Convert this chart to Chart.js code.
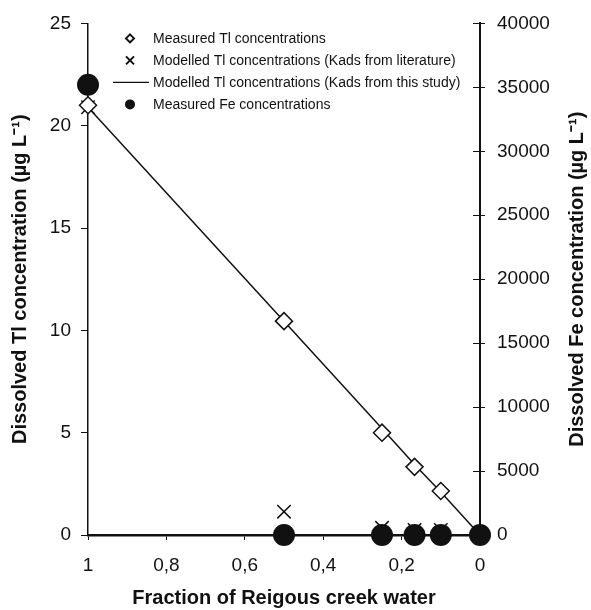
<!DOCTYPE html>
<html>
<head>
<meta charset="utf-8">
<script src="https://cdn.jsdelivr.net/npm/chart.js@4.4.1/dist/chart.umd.min.js"></script>
<style>
  html, body { margin: 0; padding: 0; background: #fff; }
  #wrap { width: 591px; height: 610px; position: relative; }
</style>
</head>
<body>
<div id="wrap"><canvas id="chart"></canvas></div>
<script>
// values
const fraction = [1, 0.5, 0.25, 0.167, 0.1, 0];
const measuredTl = [21.0, 10.45, 5.0, 3.33, 2.15, 0];
const modelledTlLit = [20.9, 1.14, 0.35, 0.25, 0.25, 0.05];
const modelledTlStudy = [20.9, 10.45, 5.2, 3.45, 2.1, 0];
const measuredFe = [35200, 0, 0, 0, 0, 0];

const xTicks = [1, 0.8, 0.6, 0.4, 0.2, 0];
const tlTicks = [0, 5, 10, 15, 20, 25];
const feTicks = [0, 5000, 10000, 15000, 20000, 25000, 30000, 35000, 40000];

const legendLabels = [
  "Measured Tl concentrations",
  "Modelled Tl concentrations (Kads from literature)",
  "Modelled Tl concentrations (Kads from this study)",
  "Measured Fe concentrations"
];

const FONT = "'Liberation Sans', Arial, sans-serif";
const INK = "#111";

const toPoints = (ys) => fraction.map((x, i) => ({ x: x, y: ys[i] }));
const fixTicks = (list) => (scale) => { scale.ticks = list.map(v => ({ value: v })); };

// legend inside the plot + right axis title (it reads upward) + inner tick halves
const extrasPlugin = {
  id: "extras",
  afterDraw(chart) {
    const ctx = chart.ctx;
    const area = chart.chartArea;
    const yFe = chart.scales.yFe;

    ctx.save();
    ctx.strokeStyle = INK;
    ctx.fillStyle = INK;

    // right axis ticks cross into the plot
    ctx.lineWidth = 1;
    feTicks.forEach(v => {
      const py = Math.round(yFe.getPixelForValue(v)) + 0.5;
      ctx.beginPath();
      ctx.moveTo(area.right - 7, py);
      ctx.lineTo(area.right, py);
      ctx.stroke();
    });

    // legend
    const mx = area.left + 42;
    const tx = area.left + 65;
    legendLabels.forEach((label, i) => {
      const ly = area.top + 15 + i * 22;
      ctx.beginPath();
      if (i === 0) {
        ctx.moveTo(mx, ly - 4);
        ctx.lineTo(mx + 4, ly);
        ctx.lineTo(mx, ly + 4);
        ctx.lineTo(mx - 4, ly);
        ctx.closePath();
        ctx.lineWidth = 2;
        ctx.stroke();
      } else if (i === 1) {
        ctx.moveTo(mx - 4, ly - 4);
        ctx.lineTo(mx + 4, ly + 4);
        ctx.moveTo(mx + 4, ly - 4);
        ctx.lineTo(mx - 4, ly + 4);
        ctx.lineWidth = 2;
        ctx.stroke();
      } else if (i === 2) {
        ctx.moveTo(area.left + 25, ly);
        ctx.lineTo(area.left + 61, ly);
        ctx.lineWidth = 1.3;
        ctx.stroke();
      } else {
        ctx.arc(mx, ly, 5, 0, Math.PI * 2);
        ctx.fill();
      }
      ctx.font = "14px " + FONT;
      ctx.textAlign = "left";
      ctx.textBaseline = "middle";
      ctx.fillText(label, tx, ly + 1);
    });

    // right axis title
    ctx.font = "bold 20px " + FONT;
    ctx.textAlign = "center";
    ctx.textBaseline = "middle";
    ctx.translate(577, (area.top + area.bottom) / 2);
    ctx.rotate(-Math.PI / 2);
    ctx.fillText("Dissolved Fe concentration (µg L⁻¹)", 0, 0);
    ctx.restore();
  }
};

new Chart(document.getElementById("chart"), {
  type: "scatter",
  data: {
    datasets: [
      {
        label: legendLabels[3],
        data: toPoints(measuredFe),
        yAxisID: "yFe",
        clip: false,
        pointStyle: "circle",
        pointRadius: 11,
        backgroundColor: INK,
        borderColor: INK,
        borderWidth: 0,
        order: 0
      },
      {
        label: legendLabels[0],
        data: toPoints(measuredTl),
        yAxisID: "y",
        clip: false,
        pointStyle: "rectRot",
        pointRadius: 8.5,
        backgroundColor: "#fff",
        borderColor: INK,
        borderWidth: 1.5,
        order: 1
      },
      {
        label: legendLabels[1],
        data: toPoints(modelledTlLit),
        yAxisID: "y",
        clip: false,
        pointStyle: "crossRot",
        pointRadius: 9.5,
        borderColor: INK,
        borderWidth: 1.5,
        order: 2
      },
      {
        label: legendLabels[2],
        data: toPoints(modelledTlStudy),
        yAxisID: "y",
        clip: false,
        showLine: true,
        pointRadius: 0,
        borderColor: INK,
        borderWidth: 1.5,
        order: 3
      }
    ]
  },
  options: {
    responsive: true,
    maintainAspectRatio: false,
    animation: false,
    layout: { padding: { top: 22, left: 0, right: 0, bottom: 0 } },
    plugins: {
      legend: { display: false },
      tooltip: { enabled: false }
    },
    scales: {
      x: {
        type: "linear",
        reverse: true,
        min: 0,
        max: 1,
        afterBuildTicks: fixTicks(xTicks),
        afterFit: (s) => { s.height = 75; },
        grid: { drawOnChartArea: false, drawTicks: true, tickLength: 5, color: INK },
        border: { display: true, color: INK, width: 2.5 },
        ticks: {
          color: INK,
          padding: 14,
          font: { family: FONT, size: 19 },
          callback: (v) => String(v).replace(".", ",")
        },
        title: {
          display: true,
          text: "Fraction of Reigous creek water",
          color: INK,
          font: { family: FONT, size: 20, weight: "bold" },
          padding: { top: 0, bottom: 0 }
        }
      },
      y: {
        position: "left",
        min: 0,
        max: 25,
        afterBuildTicks: fixTicks(tlTicks),
        afterFit: (s) => { s.width = 88; },
        grid: { drawOnChartArea: false, drawTicks: true, tickLength: 7, color: INK },
        border: { display: true, color: INK, width: 1.5 },
        ticks: { color: INK, padding: 10, font: { family: FONT, size: 19 } },
        title: {
          display: true,
          text: "Dissolved Tl concentration (µg L⁻¹)",
          color: INK,
          font: { family: FONT, size: 20, weight: "bold" },
          padding: { top: 8, bottom: 0 }
        }
      },
      yFe: {
        position: "right",
        min: 0,
        max: 40000,
        afterBuildTicks: fixTicks(feTicks),
        afterFit: (s) => { s.width = 111; },
        grid: { drawOnChartArea: false, drawTicks: true, tickLength: 5, color: INK },
        border: { display: true, color: INK, width: 2 },
        ticks: {
          color: INK,
          padding: 12,
          font: { family: FONT, size: 19 },
          callback: (v) => String(v)
        }
      }
    }
  },
  plugins: [extrasPlugin]
});
</script>
</body>
</html>
